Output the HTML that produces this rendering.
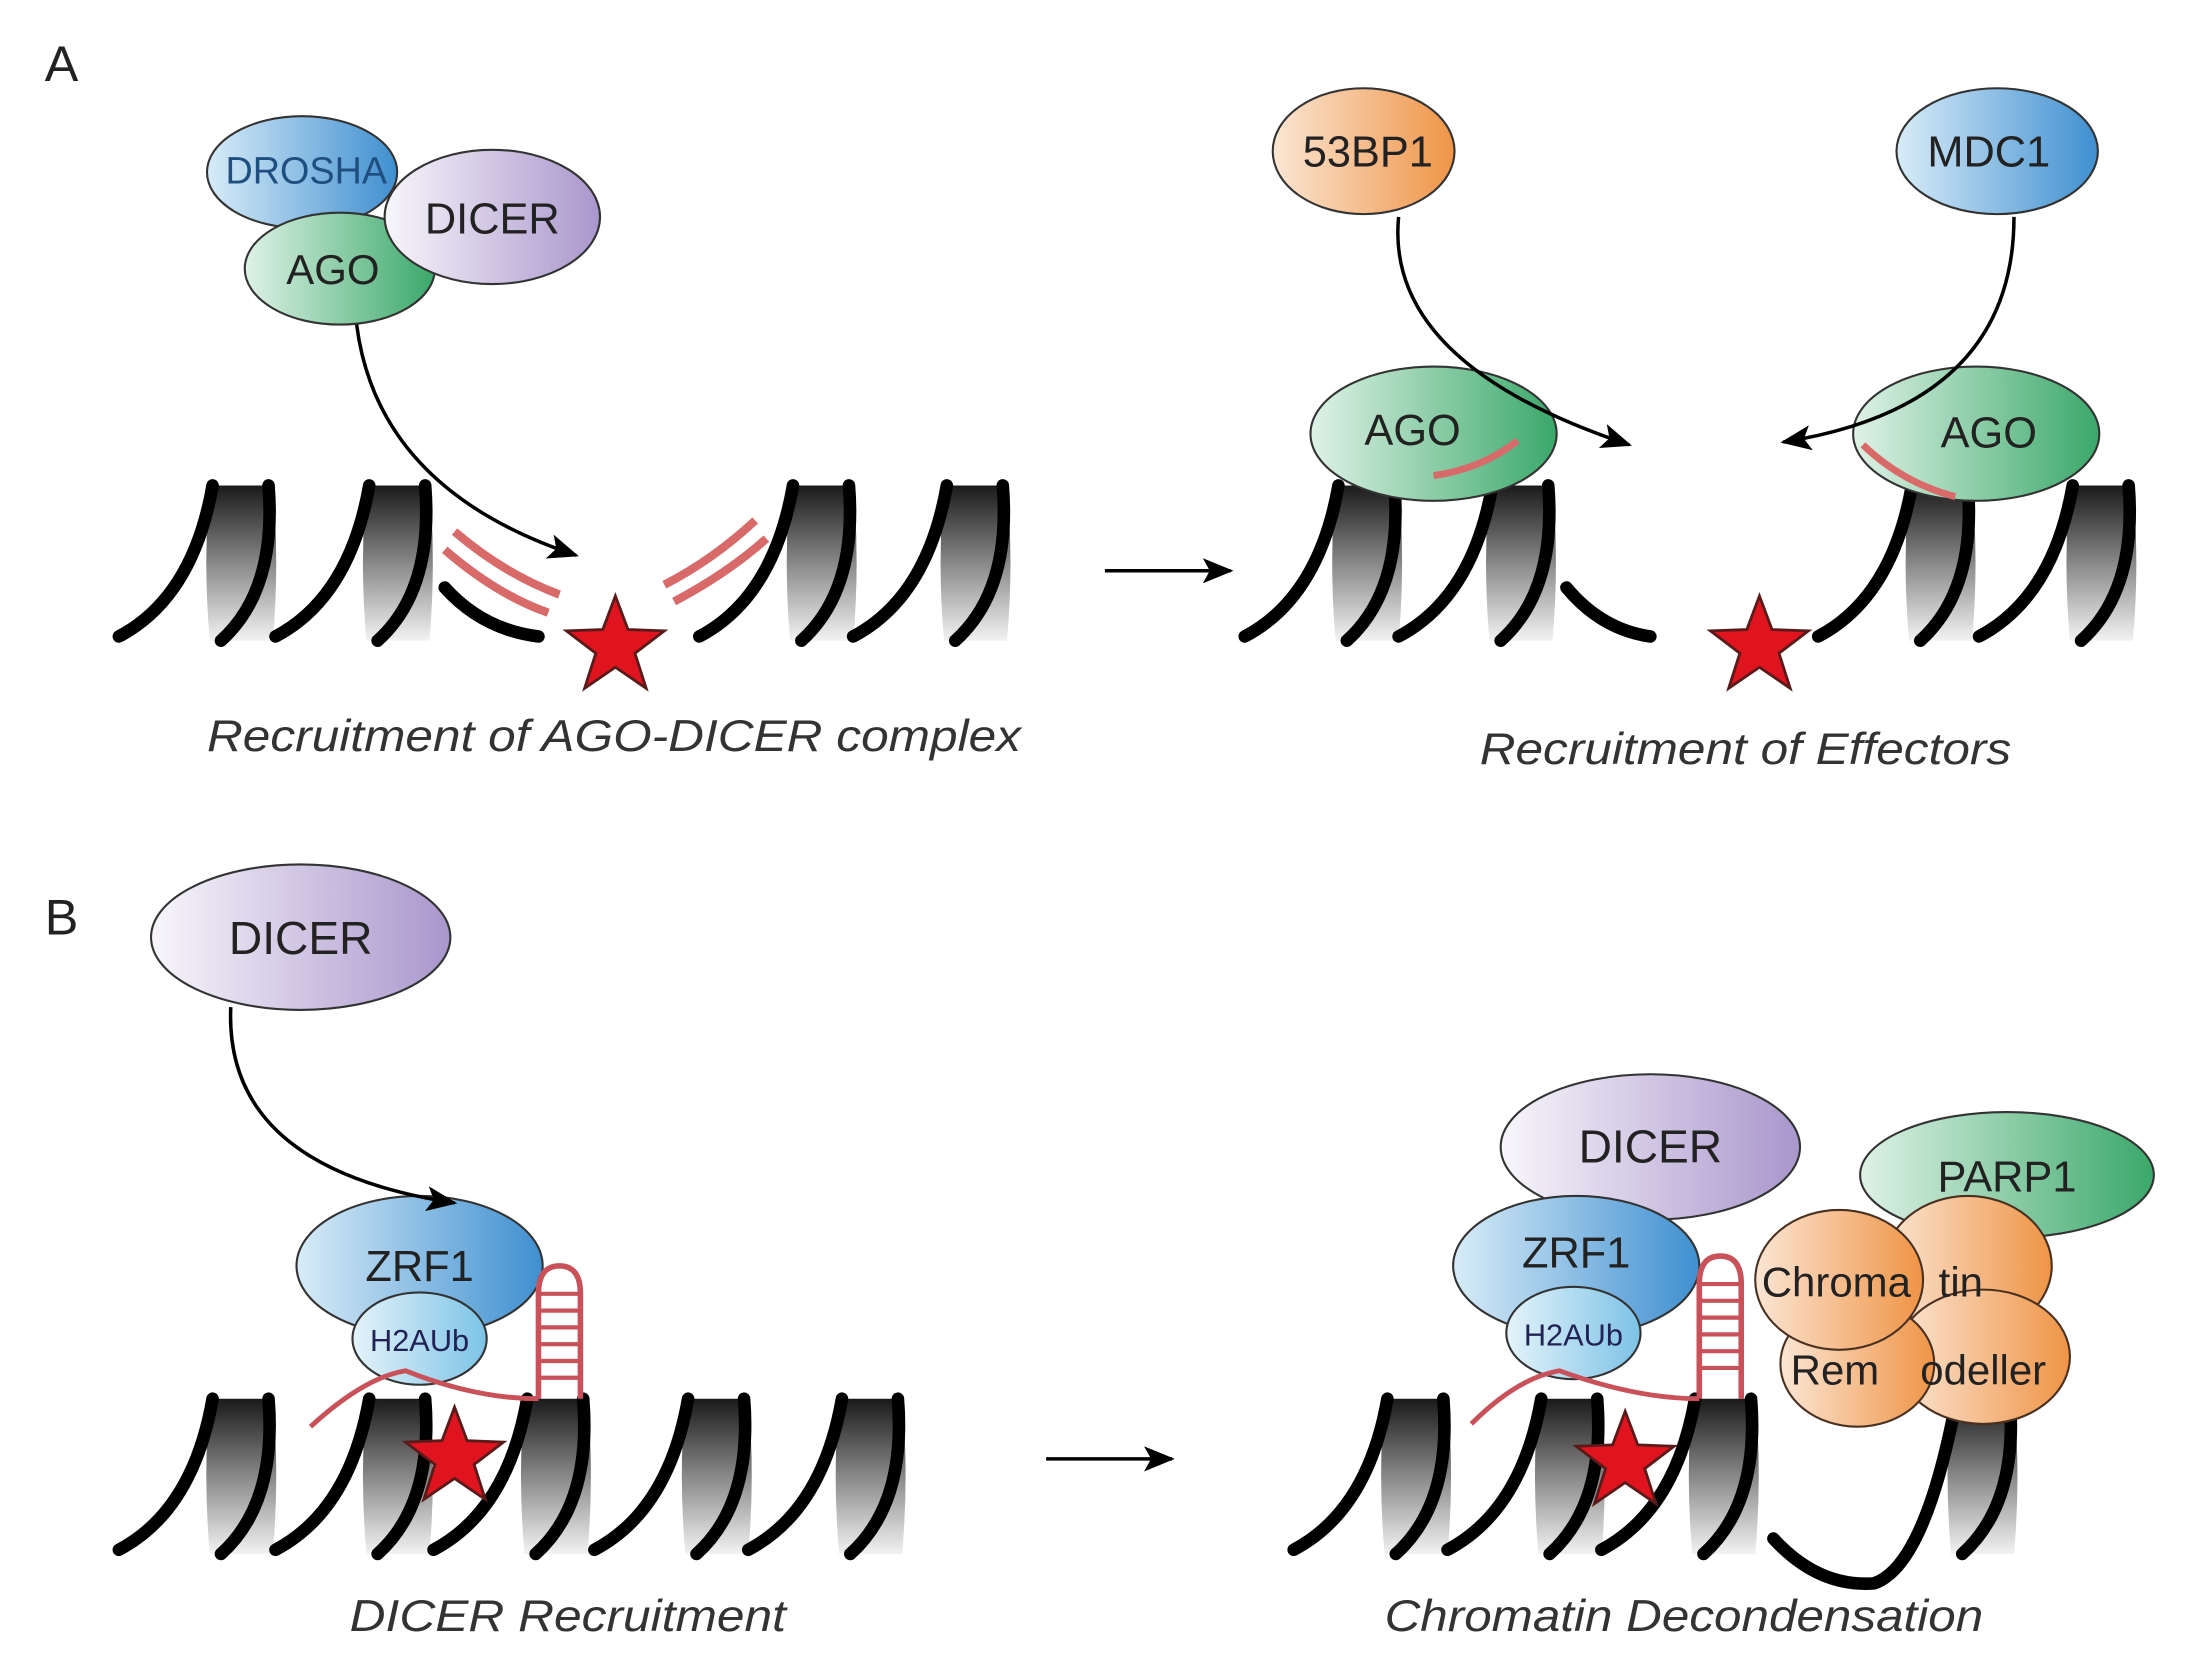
<!DOCTYPE html>
<html><head><meta charset="utf-8"><style>html,body{margin:0;padding:0;background:#fff}svg{display:block}</style></head><body>
<svg width="2193" height="1659" viewBox="0 0 1568 1186" xmlns="http://www.w3.org/2000/svg" font-family="Liberation Sans, sans-serif">
<defs>
<linearGradient id="nuc" x1="0" y1="0" x2="0" y2="1"><stop offset="0" stop-color="#1a1a1a"/><stop offset="0.5" stop-color="#888"/><stop offset="1" stop-color="#f2f2f2"/></linearGradient>
<linearGradient id="blue" x1="0" y1="0" x2="1" y2="0"><stop offset="0" stop-color="#d8ecf8"/><stop offset="1" stop-color="#3f8fd0"/></linearGradient>
<linearGradient id="lblue" x1="0" y1="0" x2="1" y2="0"><stop offset="0" stop-color="#e4f3fa"/><stop offset="1" stop-color="#7cc3e6"/></linearGradient>
<linearGradient id="green" x1="0" y1="0" x2="1" y2="0"><stop offset="0" stop-color="#dff2e6"/><stop offset="1" stop-color="#3aa86a"/></linearGradient>
<linearGradient id="lav" x1="0" y1="0" x2="1" y2="0"><stop offset="0" stop-color="#f8f6fb"/><stop offset="1" stop-color="#a996cc"/></linearGradient>
<linearGradient id="orange" x1="0" y1="0" x2="1" y2="0"><stop offset="0" stop-color="#fbe6d4"/><stop offset="1" stop-color="#ef9446"/></linearGradient>
<marker id="ahb" markerWidth="22" markerHeight="18" refX="20" refY="9" orient="auto" markerUnits="userSpaceOnUse"><path d="M0,0 L22,9 L0,18 L5,9 z" fill="#000"/></marker>
<g id="body">
<path d="M0,0 L45,0 Q50,55 45,111 L0,111 Q-5,55 0,0z" fill="url(#nuc)"/>
<path d="M42,0 Q48,75 8,111" stroke="#000" stroke-width="9" fill="none" stroke-linecap="round"/>
</g>
<g id="nA">
<use href="#body"/>
<path d="M-65,108 Q-12,80 2,0" stroke="#000" stroke-width="9" fill="none" stroke-linecap="round"/>
</g>
<polygon id="star" points="0,-36 9,-12 35,-11 14,5 22,30 0,15 -22,30 -14,5 -35,-11 -9,-12" fill="#e0141e" stroke="#5a1a1a" stroke-width="2"/>
</defs>

<text x="32" y="58" font-size="36" fill="#222">A</text>
<text x="32" y="668" font-size="36" fill="#222">B</text>

<!-- Panel A left -->
<use href="#nA" x="150" y="347"/>
<use href="#nA" x="262" y="347"/>
<use href="#nA" x="565" y="347"/>
<use href="#nA" x="675" y="347"/>
<path d="M318,420 Q345,450 385,455" stroke="#000" stroke-width="9" fill="none" stroke-linecap="round"/>
<path d="M325,380 Q360,410 400,425 M318,393 Q355,425 392,438" stroke="#d96a6a" stroke-width="6" fill="none"/>
<path d="M475,418 Q510,400 540,372 M482,430 Q520,410 548,385" stroke="#d96a6a" stroke-width="6" fill="none"/>
<use href="#star" x="440" y="462"/>
<ellipse cx="216" cy="123" rx="68" ry="40" fill="url(#blue)" stroke="#333" stroke-width="1.5"/>
<ellipse cx="243" cy="192" rx="68" ry="40" fill="url(#green)" stroke="#333" stroke-width="1.5"/>
<ellipse cx="352" cy="155" rx="77" ry="48" fill="url(#lav)" stroke="#333" stroke-width="1.5"/>
<text x="219" y="131" font-size="27" fill="#1f4f80" text-anchor="middle">DROSHA</text>
<text x="238" y="203" font-size="30" fill="#222" text-anchor="middle">AGO</text>
<text x="352" y="167" font-size="31" fill="#222" text-anchor="middle">DICER</text>
<path d="M255,232 Q270,350 412,397" stroke="#000" stroke-width="2.5" fill="none" marker-end="url(#ahb)"/>
<text x="148" y="537" font-size="32" font-style="italic" fill="#333" textLength="582" lengthAdjust="spacingAndGlyphs">Recruitment of AGO-DICER complex</text>

<line x1="790" y1="408" x2="880" y2="408" stroke="#000" stroke-width="2.5" marker-end="url(#ahb)"/>

<!-- Panel A right -->
<use href="#nA" x="955" y="347"/>
<use href="#nA" x="1065" y="347"/>
<use href="#nA" x="1365" y="347"/>
<use href="#nA" x="1480" y="347"/>
<path d="M1120,420 Q1145,450 1180,455" stroke="#000" stroke-width="9" fill="none" stroke-linecap="round"/>
<use href="#star" x="1258" y="462"/>
<ellipse cx="1025" cy="310" rx="88" ry="48" fill="url(#green)" stroke="#333" stroke-width="1.5"/>
<ellipse cx="1413" cy="310" rx="88" ry="48" fill="url(#green)" stroke="#333" stroke-width="1.5"/>
<path d="M1025,340 Q1060,335 1085,315" stroke="#d96a6a" stroke-width="5" fill="none"/>
<path d="M1332,318 Q1360,345 1398,355" stroke="#d96a6a" stroke-width="5" fill="none"/>
<text x="1010" y="318" font-size="31" fill="#222" text-anchor="middle">AGO</text>
<text x="1422" y="320" font-size="31" fill="#222" text-anchor="middle">AGO</text>
<ellipse cx="975" cy="108" rx="65" ry="45" fill="url(#orange)" stroke="#333" stroke-width="1.5"/>
<ellipse cx="1428" cy="108" rx="72" ry="45" fill="url(#blue)" stroke="#333" stroke-width="1.5"/>
<text x="978" y="119" font-size="31" fill="#222" text-anchor="middle">53BP1</text>
<text x="1422" y="119" font-size="31" fill="#222" text-anchor="middle">MDC1</text>
<path d="M1000,155 Q990,260 1165,318" stroke="#000" stroke-width="2.5" fill="none" marker-end="url(#ahb)"/>
<path d="M1440,155 Q1440,290 1275,316" stroke="#000" stroke-width="2.5" fill="none" marker-end="url(#ahb)"/>
<text x="1058" y="546" font-size="32" font-style="italic" fill="#333" textLength="380" lengthAdjust="spacingAndGlyphs">Recruitment of Effectors</text>

<!-- Panel B left -->
<use href="#nA" x="150" y="1000"/>
<use href="#nA" x="262" y="1000"/>
<use href="#nA" x="375" y="1000"/>
<use href="#nA" x="490" y="1000"/>
<use href="#nA" x="600" y="1000"/>
<ellipse cx="215" cy="670" rx="107" ry="52" fill="url(#lav)" stroke="#333" stroke-width="1.5"/>
<text x="215" y="682" font-size="33" fill="#222" text-anchor="middle">DICER</text>
<ellipse cx="300" cy="905" rx="88" ry="50" fill="url(#blue)" stroke="#333" stroke-width="1.5"/>
<ellipse cx="300" cy="957" rx="48" ry="33" fill="url(#lblue)" stroke="#333" stroke-width="1.5"/>
<path d="M165,720 Q160,835 325,860" stroke="#000" stroke-width="2.5" fill="none" marker-end="url(#ahb)"/>
<text x="300" y="916" font-size="31" fill="#222" text-anchor="middle">ZRF1</text>
<text x="300" y="966" font-size="22" fill="#225" text-anchor="middle">H2AUb</text>
<path d="M385,1000 L385,925 Q385,905 400,905 Q415,905 415,925 L415,1000" stroke="#c9515a" stroke-width="4" fill="none"/>
<path d="M385,925 H415 M385,937 H415 M385,949 H415 M385,961 H415 M385,973 H415 M385,985 H415" stroke="#c9515a" stroke-width="3"/>
<path d="M222,1020 Q260,985 290,980 Q340,1000 385,1000" stroke="#c9515a" stroke-width="3.5" fill="none"/>
<use href="#star" x="325" y="1042"/>
<text x="250" y="1166" font-size="32" font-style="italic" fill="#333" textLength="312" lengthAdjust="spacingAndGlyphs">DICER Recruitment</text>

<line x1="748" y1="1043" x2="838" y2="1043" stroke="#000" stroke-width="2.5" marker-end="url(#ahb)"/>

<!-- Panel B right -->
<use href="#nA" x="990" y="1000"/>
<use href="#nA" x="1100" y="1000"/>
<use href="#nA" x="1210" y="1000"/>
<use href="#body" x="1395" y="1000"/>
<path d="M1268,1100 Q1300,1135 1340,1132 Q1375,1120 1397,1010" stroke="#000" stroke-width="9" fill="none" stroke-linecap="round"/>
<ellipse cx="1435" cy="840" rx="105" ry="45" fill="url(#green)" stroke="#333" stroke-width="1.5"/>
<text x="1435" y="852" font-size="31" fill="#222" text-anchor="middle">PARP1</text>
<ellipse cx="1180" cy="820" rx="107" ry="52" fill="url(#lav)" stroke="#333" stroke-width="1.5"/>
<text x="1180" y="831" font-size="33" fill="#222" text-anchor="middle">DICER</text>
<ellipse cx="1127" cy="905" rx="88" ry="50" fill="url(#blue)" stroke="#333" stroke-width="1.5"/>
<ellipse cx="1125" cy="953" rx="48" ry="33" fill="url(#lblue)" stroke="#333" stroke-width="1.5"/>
<text x="1127" y="906" font-size="31" fill="#222" text-anchor="middle">ZRF1</text>
<text x="1125" y="962" font-size="22" fill="#225" text-anchor="middle">H2AUb</text>
<path d="M1215,1000 L1215,918 Q1215,898 1230,898 Q1245,898 1245,918 L1245,1000" stroke="#c9515a" stroke-width="4" fill="none"/>
<path d="M1215,918 H1245 M1215,930 H1245 M1215,942 H1245 M1215,954 H1245 M1215,966 H1245 M1215,978 H1245" stroke="#c9515a" stroke-width="3"/>
<path d="M1052,1018 Q1085,985 1115,980 Q1170,1000 1215,1000" stroke="#c9515a" stroke-width="3.5" fill="none"/>
<use href="#star" x="1162" y="1045"/>
<ellipse cx="1407" cy="905" rx="60" ry="50" fill="url(#orange)" stroke="#4a3020" stroke-width="1.5"/>
<ellipse cx="1418" cy="970" rx="62" ry="48" fill="url(#orange)" stroke="#4a3020" stroke-width="1.5"/>
<ellipse cx="1328" cy="975" rx="55" ry="45" fill="url(#orange)" stroke="#4a3020" stroke-width="1.5"/>
<ellipse cx="1315" cy="915" rx="60" ry="50" fill="url(#orange)" stroke="#4a3020" stroke-width="1.5"/>
<text x="1313" y="927" font-size="30" fill="#222" text-anchor="middle">Chroma</text>
<text x="1402" y="927" font-size="30" fill="#222" text-anchor="middle">tin</text>
<text x="1312" y="990" font-size="30" fill="#222" text-anchor="middle">Rem</text>
<text x="1418" y="990" font-size="30" fill="#222" text-anchor="middle">odeller</text>
<text x="990" y="1166" font-size="32" font-style="italic" fill="#333" textLength="428" lengthAdjust="spacingAndGlyphs">Chromatin Decondensation</text>
</svg>
</body></html>
